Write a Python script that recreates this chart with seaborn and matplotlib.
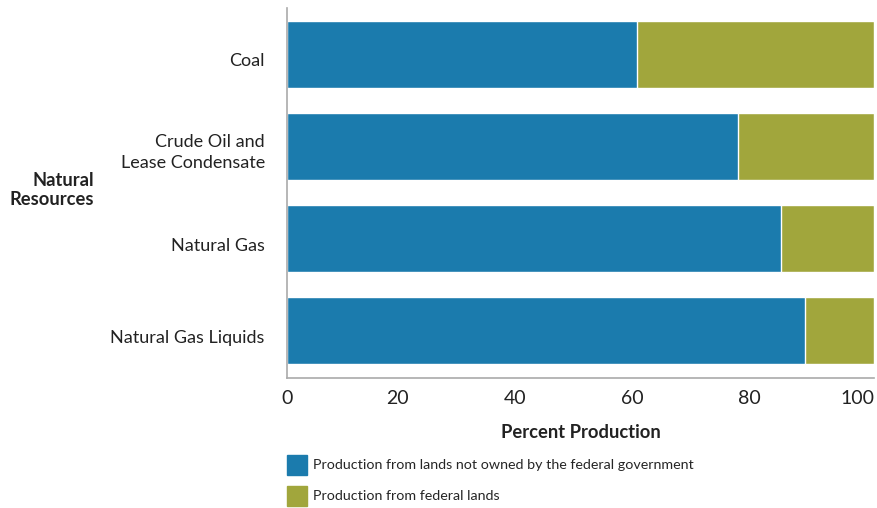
import matplotlib
matplotlib.use("Agg")
import matplotlib.pyplot as plt
import matplotlib.patches as mpatches
import matplotlib.transforms as mtransforms
import seaborn as sns
import pandas as pd

# data
resources = ["Coal", "Crude Oil and\nLease Condensate", "Natural Gas", "Natural Gas Liquids"]
non_federal = [59.6, 76.8, 84.2, 88.2]
federal = [40.4, 23.2, 15.8, 11.8]
x_ticks = [0, 20, 40, 60, 80, 100]

blue = "#1b7bad"
olive = "#a1a63c"

sns.set_style("white")
plt.rcParams['font.family'] = ['Lato', 'DejaVu Sans']

df = pd.DataFrame({"resource": resources, "non_federal": non_federal, "federal": federal})
df["total"] = df["non_federal"] + df["federal"]

fig = plt.figure(figsize=(8.77, 5.08), dpi=100)
ax = fig.add_axes([287 / 877, 1 - 378 / 508, (874 - 287) / 877, (378 - 8) / 508])

# stacked: total in olive, then non-federal in blue on top
sns.barplot(data=df, x="total", y="resource", color=olive, width=0.73, saturation=1, ax=ax)
sns.barplot(data=df, x="non_federal", y="resource", color=blue, width=0.73, saturation=1, ax=ax)

ax.set_xlim(0, 100)
ax.set_ylim(3.516, -0.505)
ax.set_xticks(x_ticks)
ax.tick_params(axis="x", labelsize=14, colors="#222222", length=0, pad=9)
ax.tick_params(axis="y", labelsize=13, colors="#222222", length=0, pad=16)

# category labels sit a bit below the bar centres in the reference
for t in ax.get_yticklabels():
    t.set_ha("right")
    t.set_multialignment("right")
    t.set_linespacing(1.35)
    dy = -2 if "\n" in t.get_text() else -5.5
    t.set_transform(t.get_transform() + mtransforms.ScaledTranslation(0, dy / 100, fig.dpi_scale_trans))

# x tick labels sit a little left of their ticks in the reference
shift = mtransforms.ScaledTranslation(-7 / 100, 0, fig.dpi_scale_trans)
xlabels = ax.get_xticklabels()
for t in xlabels[1:-1]:
    t.set_transform(t.get_transform() + shift)
xlabels[-1].set_ha("right")

ax.set_xlabel("Percent Production", fontsize=13.2, fontweight="bold", color="#222222", labelpad=12)
ax.set_ylabel("")
fig.text(94 / 877, 1 - 190 / 508, "Natural\nResources", ha="right", va="center",
         fontsize=13.2, fontweight="bold", color="#222222", linespacing=1.1)

sns.despine(ax=ax, top=True, right=True)
for s in ["left", "bottom"]:
    ax.spines[s].set_color("#aaaaaa")
    ax.spines[s].set_linewidth(1.2)

handles = [mpatches.Patch(color=blue, label="Production from lands not owned by the federal government"),
           mpatches.Patch(color=olive, label="Production from federal lands")]
fig.legend(handles=handles, loc="upper left", bbox_to_anchor=(284 / 877, 1 - 452 / 508),
           frameon=False, fontsize=10.3, handlelength=1.4, handleheight=1.77,
           handletextpad=0.42, labelspacing=0.77, borderaxespad=0, borderpad=0.2)

fig.savefig("out.png", dpi=100)
